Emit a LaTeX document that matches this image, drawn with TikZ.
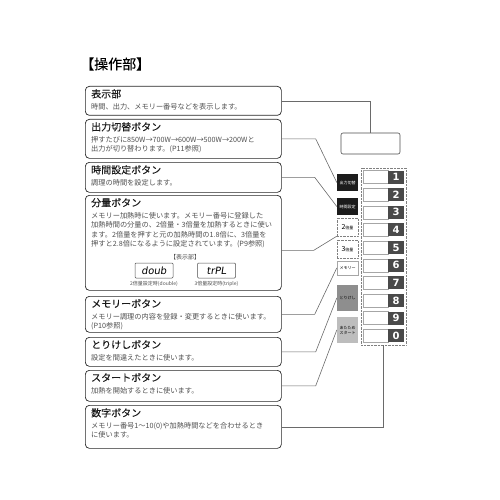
\documentclass[tikz,border=0pt]{standalone}
\usepackage{fontspec}
\setmainfont{Noto Sans CJK JP}
\newfontfamily\headfont{Noto Sans CJK JP}[FakeBold=0.15]
\newfontfamily\segfont{DejaVu Sans}[FakeSlant=0.15]
\newfontfamily\numfont{DejaVu Sans}
\usetikzlibrary{positioning,calc}
\definecolor{desctext}{HTML}{4F4F4F}
\definecolor{linegray}{HTML}{6A6A6A}
\definecolor{keydark}{HTML}{4A4A4A}
\definecolor{keyblack}{HTML}{1C1C1C}
\definecolor{cancelgray}{HTML}{8E8E8E}
\definecolor{startgray}{HTML}{BDBDBD}

\def\boxw{196pt}
\def\rowsep{17.65}

\begin{document}
\begin{tikzpicture}[x=1pt,y=-1pt]
    \tikzstyle{infobox}=[draw=black!85,line width=0.7pt,rounded corners=4pt,minimum width=\boxw,inner sep=0pt,anchor=north west]
    \tikzstyle{head}=[anchor=north west,inner sep=0pt,font=\headfont\fontsize{10}{12}\selectfont,text=black!90]
    \tikzstyle{desc}=[anchor=north west,inner sep=0pt,font=\fontsize{7.2}{9.5}\selectfont,text=desctext,align=left]
    \tikzstyle{link}=[draw=linegray,line width=0.6pt]
    \tikzstyle{key}=[minimum width=21pt,inner sep=0pt,font=\fontsize{4}{5}\selectfont,align=center]
    \tikzstyle{numkey}=[draw=gray!70,line width=0.5pt,minimum width=25pt,minimum height=13pt,inner sep=0pt]
    \tikzstyle{numtab}=[fill=keydark,minimum width=16pt,minimum height=13pt,inner sep=0pt,text=white,font=\numfont\bfseries\fontsize{10}{10}\selectfont]
    \tikzstyle{lcd}=[draw=black!70,line width=0.5pt,rounded corners=1pt,minimum width=38pt,minimum height=15pt,inner sep=0pt,font=\segfont\fontsize{10}{10}\selectfont]

    \useasboundingbox (0,0) rectangle (500,500);

    \node[anchor=west,inner sep=0pt,font=\headfont\fontsize{14}{16}\selectfont] (title) at (80,64) {【操作部】};

    % left column
    \node[infobox,minimum height=29pt] (disp) at (85,86) {};
    \node[head] at ([xshift=6pt,yshift=-3pt]disp.north west) {表示部};
    \node[desc] at ([xshift=6pt,yshift=-17pt]disp.north west) {時間、出力、メモリー番号などを表示します。};

    \node[infobox,minimum height=39pt] (power) at (85,119) {};
    \node[head] at ([xshift=6pt,yshift=-3pt]power.north west) {出力切替ボタン};
    \node[desc] at ([xshift=6pt,yshift=-17pt]power.north west) {押すたびに850W→700W→600W→500W→200Wと\\出力が切り替わります。(P11参照)};

    \node[infobox,minimum height=30pt] (timer) at (85,162) {};
    \node[head] at ([xshift=6pt,yshift=-3pt]timer.north west) {時間設定ボタン};
    \node[desc] at ([xshift=6pt,yshift=-17pt]timer.north west) {調理の時間を設定します。};

    \node[infobox,minimum height=95pt] (amount) at (85,195) {};
    \node[head] at ([xshift=6pt,yshift=-3pt]amount.north west) {分量ボタン};
    \node[desc] at ([xshift=6pt,yshift=-17pt]amount.north west) {メモリー加熱時に使います。メモリー番号に登録した\\加熱時間の分量の、2倍量・3倍量を加熱するときに使い\\ます。2倍量を押すと元の加熱時間の1.8倍に、3倍量を\\押すと2.8倍になるように設定されています。(P9参照)};
    \node[inner sep=0pt,font=\fontsize{6}{7}\selectfont,text=desctext] (lcdhead) at (185,257) {【表示部】};
    \node[lcd] (lcdtwo) at (154,270.5) {doub};
    \node[lcd] (lcdthree) at (216.5,270.5) {trPL};
    \node[inner sep=0pt,font=\fontsize{5}{6}\selectfont,text=desctext] at (154,284) {2倍量設定時(double)};
    \node[inner sep=0pt,font=\fontsize{5}{6}\selectfont,text=desctext] at (216.5,284) {3倍量設定時(triple)};

    \node[infobox,minimum height=36pt] (memory) at (85,296) {};
    \node[head] at ([xshift=6pt,yshift=-3pt]memory.north west) {メモリーボタン};
    \node[desc] at ([xshift=6pt,yshift=-17pt]memory.north west) {メモリー調理の内容を登録・変更するときに使います。\\(P10参照)};

    \node[infobox,minimum height=29pt] (cancel) at (85,337) {};
    \node[head] at ([xshift=6pt,yshift=-3pt]cancel.north west) {とりけしボタン};
    \node[desc] at ([xshift=6pt,yshift=-17pt]cancel.north west) {設定を間違えたときに使います。};

    \node[infobox,minimum height=31pt] (start) at (85,370) {};
    \node[head] at ([xshift=6pt,yshift=-3pt]start.north west) {スタートボタン};
    \node[desc] at ([xshift=6pt,yshift=-17pt]start.north west) {加熱を開始するときに使います。};

    \node[infobox,minimum height=43pt] (digits) at (85,405) {};
    \node[head] at ([xshift=6pt,yshift=-3pt]digits.north west) {数字ボタン};
    \node[desc] at ([xshift=6pt,yshift=-17pt]digits.north west) {メモリー番号1～10(0)や加熱時間などを合わせるとき\\に使います。};

    % control panel
    \node[draw=black!70,line width=0.6pt,rounded corners=2pt,minimum width=59pt,minimum height=21pt,inner sep=0pt] (panel) at (370.5,143.5) {};

    \node[key,fill=keyblack,text=white,minimum height=17pt] (pwr) at (347.5,182.5) {出力切替};
    \node[key,fill=keyblack,text=white,minimum height=17pt] (tim) at (347.5,206.5) {時間設定};
    \node[key,draw=gray,densely dotted,minimum height=18pt] (x2) at (347.5,227) {{\fontsize{7}{7}\selectfont 2}倍量};
    \node[key,draw=gray,densely dotted,minimum height=18pt] (x3) at (347.5,249) {{\fontsize{7}{7}\selectfont 3}倍量};
    \node[key,draw=gray!70,line width=0.5pt,minimum height=14pt] (mem) at (347.5,268) {メモリー};
    \node[key,fill=cancelgray,minimum height=26pt] (can) at (347.5,298) {とりけし};
    \node[key,fill=startgray,minimum height=26pt] (sta) at (347.5,330) {あたため\\スタート};

    \node[draw=gray,densely dotted,minimum width=45pt,minimum height=177pt,inner sep=0pt] (numcol) at (383.5,256.5) {};
    \foreach \n [count=\i from 0] in {1,2,3,4,5,6,7,8,9,0} {
        \node[numkey] (key\n) at (375.5,177+\rowsep*\i) {};
        \node[numtab] (tab\n) at (396,177+\rowsep*\i) {\n};
    }

    % leaders
    \draw[link] (disp.east) -| (panel.north);
    \draw[link] (power.east) -- ++(34,0) -- (pwr.west);
    \draw[link] (timer.east) -- ++(33,0) -- (tim.west);
    \draw[link] ([yshift=-7.5pt]amount.east) -- ++(32,0) -- (x2.south west);
    \draw[link] (memory.east) -- ++(33,0) -- (mem.west);
    \draw[link] (cancel.east) -- ++(34,0) -- (can.west);
    \draw[link] (start.east) -- ++(34,0) -- (sta.west);
    \draw[link] (digits.east) -| (numcol.south);
\end{tikzpicture}
\end{document}
